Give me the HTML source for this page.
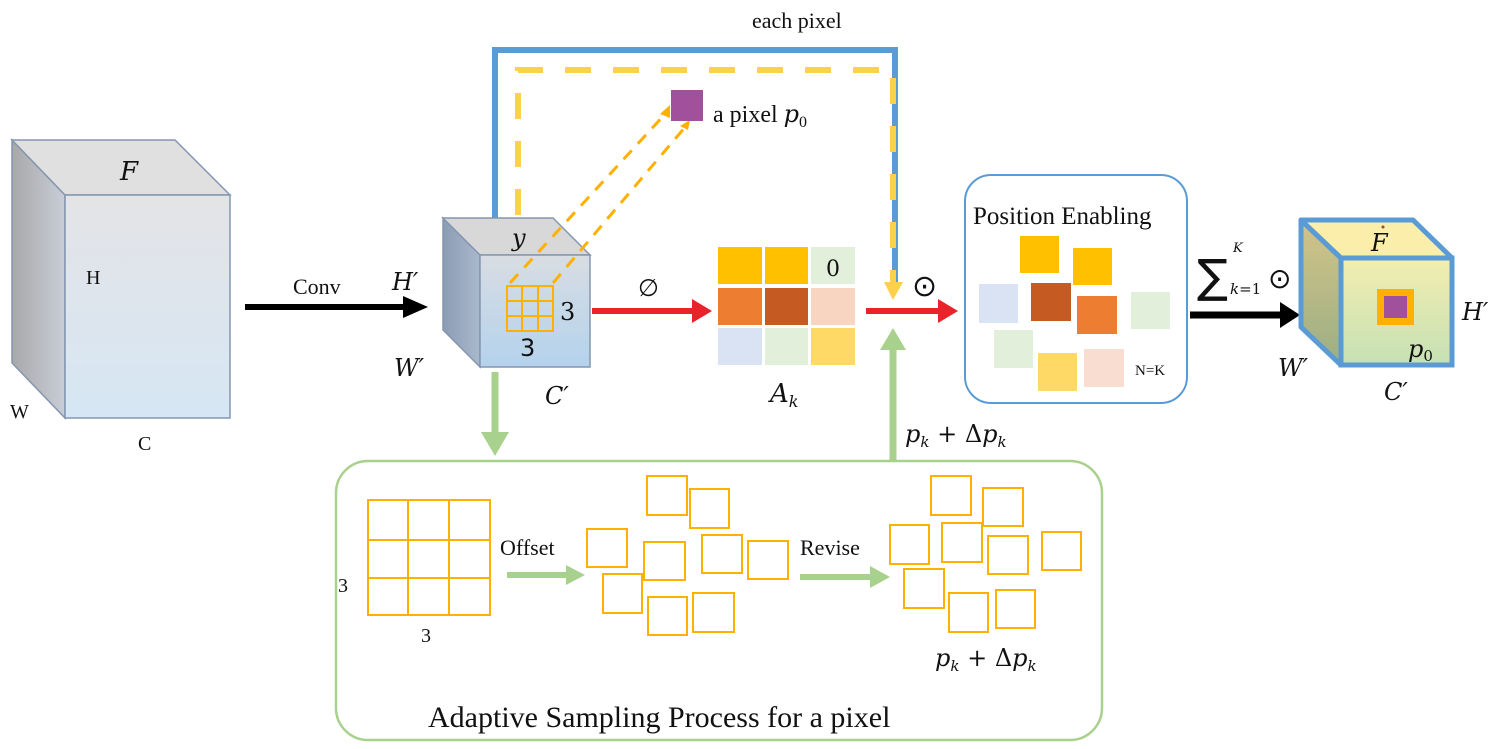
<!DOCTYPE html>
<html><head><meta charset="utf-8"><style>
html,body{margin:0;padding:0;background:#fff}
svg{display:block}
text{font-family:"Liberation Serif",serif;fill:#111}
.m{font-family:"DejaVu Serif","Liberation Serif",serif;font-style:italic}
</style></head><body>
<svg width="1500" height="749" viewBox="0 0 1500 749" xmlns="http://www.w3.org/2000/svg">
<defs>
<linearGradient id="g1" x1="0" y1="0" x2="0" y2="1"><stop offset="0" stop-color="#e4e4e6"/><stop offset="1" stop-color="#d6e6f4"/></linearGradient>
<linearGradient id="g2" x1="0" y1="0" x2="0" y2="1"><stop offset="0" stop-color="#d8dde3"/><stop offset="1" stop-color="#b4d2ec"/></linearGradient>
<linearGradient id="g3" x1="0" y1="0" x2="0" y2="1"><stop offset="0" stop-color="#f2eeb0"/><stop offset="1" stop-color="#c6e0b4"/></linearGradient>
<linearGradient id="g4" x1="0" y1="0" x2="0" y2="1"><stop offset="0" stop-color="#d2c488"/><stop offset="1" stop-color="#9cae84"/></linearGradient>
<linearGradient id="g5" x1="0" y1="0" x2="1" y2="0"><stop offset="0" stop-color="#a8a8aa"/><stop offset="1" stop-color="#c8cdd6"/></linearGradient>
<linearGradient id="g6" x1="0" y1="0" x2="1" y2="0"><stop offset="0" stop-color="#8b9cb4"/><stop offset="1" stop-color="#aab8cc"/></linearGradient>
</defs>

<!-- left cube -->
<polygon points="12,140 65,195 65,418 12,363" fill="url(#g5)" stroke="#8496b0" stroke-width="1.5"/>
<polygon points="12,140 175,140 230,195 65,195" fill="#e0e0e0" stroke="#8496b0" stroke-width="1.5"/>
<rect x="65" y="195" width="165" height="223" fill="url(#g1)" stroke="#8496b0" stroke-width="1.5"/>
<text x="120" y="180" font-size="26" class="m">F</text>
<text x="86" y="284" font-size="20">H</text>
<text x="10" y="418" font-size="20">W</text>
<text x="138" y="450" font-size="20">C</text>

<!-- conv arrow -->
<line x1="245" y1="307" x2="405" y2="307" stroke="#000" stroke-width="6"/>
<polygon points="403,296 428,307 403,318" fill="#000"/>
<text x="293" y="294" font-size="22">Conv</text>

<!-- blue and yellow top loop -->
<polyline points="495,218 495,50 895,50 895,285" fill="none" stroke="#5b9bd5" stroke-width="6"/>
<polyline points="518,215 518,70 893,70 893,282" fill="none" stroke="#ffd04a" stroke-width="6" stroke-dasharray="26,22"/>
<polygon points="884,282 903,282 893,300" fill="#ffd04a"/>
<text x="752" y="28" font-size="22">each pixel</text>

<!-- small cube -->
<polygon points="443,218 480,255 480,367 443,330" fill="url(#g6)" stroke="#8496b0" stroke-width="1.5"/>
<polygon points="443,218 553,218 590,255 480,255" fill="#d8d8d8" stroke="#8496b0" stroke-width="1.5"/>
<rect x="480" y="255" width="110" height="112" fill="url(#g2)" stroke="#8496b0" stroke-width="1.5"/>
<g stroke="#ffb000" stroke-width="2" fill="none">
<rect x="507" y="286" width="46" height="45"/>
<line x1="522" y1="286" x2="522" y2="331"/><line x1="538" y1="286" x2="538" y2="331"/>
<line x1="507" y1="301" x2="553" y2="301"/><line x1="507" y1="316" x2="553" y2="316"/>
</g>
<g stroke="#ffb000" stroke-width="3" stroke-dasharray="12,9">
<line x1="510" y1="283" x2="666" y2="113"/>
<line x1="553" y1="283" x2="686" y2="126"/>
</g>
<polygon points="660,114 670,105 670,118" fill="#ffb000"/>
<polygon points="680,126 690,120 688,130" fill="#ffb000"/>
<rect x="671" y="90" width="32" height="31" fill="#a1519c"/>
<text x="713" y="122" font-size="24">a pixel <tspan class="m">p</tspan><tspan font-size="16" dy="5">0</tspan></text>
<text x="512" y="246" font-size="24" class="m">y</text>
<text x="560" y="320" font-size="24" class="m" style="font-style:normal">3</text>
<text x="520" y="356" font-size="24" style="font-family:'DejaVu Sans',sans-serif">3</text>
<text x="392" y="290" font-size="24" class="m">H′</text>
<text x="394" y="376" font-size="24" class="m">W′</text>
<text x="545" y="404" font-size="24" class="m">C′</text>

<!-- red arrow phi -->
<line x1="592" y1="311" x2="695" y2="311" stroke="#e8232a" stroke-width="6"/>
<polygon points="692,299 712,311 692,323" fill="#e8232a"/>
<text x="638" y="296" font-size="24" class="m" style="font-style:normal">∅</text>

<!-- A_k grid -->
<rect x="718" y="247" width="44" height="37" fill="#ffc000"/>
<rect x="765" y="247" width="43" height="37" fill="#ffc000"/>
<rect x="811" y="247" width="44" height="37" fill="#e2efda"/>
<rect x="718" y="288" width="44" height="37" fill="#ed7d31"/>
<rect x="765" y="288" width="43" height="37" fill="#c55a22"/>
<rect x="811" y="288" width="44" height="37" fill="#f8d5c0"/>
<rect x="718" y="328" width="44" height="37" fill="#dae3f3"/>
<rect x="765" y="328" width="43" height="37" fill="#e2efda"/>
<rect x="811" y="328" width="44" height="37" fill="#ffd966"/>
<text x="826" y="276" font-size="22" style="font-family:'DejaVu Serif',serif">0</text>
<text x="770" y="402" font-size="26" class="m">A<tspan font-size="16" dy="5">k</tspan></text>

<!-- red arrow 2 -->
<line x1="866" y1="311" x2="940" y2="311" stroke="#e8232a" stroke-width="6"/>
<polygon points="938,299 958,311 938,323" fill="#e8232a"/>
<text x="912" y="296" font-size="30" style="font-family:'DejaVu Sans',sans-serif">⊙</text>
<!-- green up -->
<line x1="893" y1="460" x2="893" y2="345" stroke="#a9d18e" stroke-width="7"/>
<polygon points="880,350 893,328 906,350" fill="#a9d18e"/>
<text x="905" y="442" font-size="24" class="m">p<tspan font-size="15" dy="5">k</tspan><tspan dy="-5" style="font-style:normal"> + Δ</tspan>p<tspan font-size="15" dy="5">k</tspan></text>

<!-- position box -->
<rect x="965" y="175" width="222" height="228" rx="26" fill="#fff" stroke="#5b9bd5" stroke-width="2"/>
<text x="973" y="224" font-size="25">Position  Enabling</text>
<rect x="1020" y="236" width="39" height="37" fill="#ffc000"/>
<rect x="1073" y="248" width="39" height="37" fill="#ffc000"/>
<rect x="979" y="284" width="39" height="39" fill="#dae3f3"/>
<rect x="1031" y="283" width="40" height="38" fill="#c55a22"/>
<rect x="1077" y="296" width="40" height="38" fill="#ed7d31"/>
<rect x="1131" y="292" width="39" height="37" fill="#e2efda"/>
<rect x="994" y="330" width="39" height="38" fill="#e2efda"/>
<rect x="1038" y="353" width="39" height="38" fill="#ffd966"/>
<rect x="1084" y="349" width="40" height="38" fill="#f8ddd0"/>
<text x="1135" y="375" font-size="15">N=K</text>

<!-- sum arrow -->
<line x1="1190" y1="315" x2="1282" y2="315" stroke="#000" stroke-width="7"/>
<polygon points="1280,302 1300,315 1280,328" fill="#000"/>
<text x="1197" y="292" font-size="46" style="font-family:'DejaVu Sans',sans-serif">∑</text>
<text x="1233" y="252" font-size="13" class="m">K</text>
<text x="1230" y="294" font-size="15" class="m">k<tspan style="font-style:normal">=1</tspan></text>
<text x="1268" y="288" font-size="28" style="font-family:'DejaVu Sans',sans-serif">⊙</text>

<!-- right cube -->
<polygon points="1301,220 1341,258 1341,365 1301,327" fill="url(#g4)" stroke="#5b9bd5" stroke-width="5" stroke-linejoin="round"/>
<polygon points="1301,220 1413,220 1452,258 1341,258" fill="#fbeeab" stroke="#5b9bd5" stroke-width="5" stroke-linejoin="round"/>
<rect x="1341" y="258" width="111" height="107" fill="url(#g3)" stroke="#5b9bd5" stroke-width="5"/>
<rect x="1377" y="289" width="37" height="36" fill="#ffb000"/>
<rect x="1384" y="296" width="23" height="22" fill="#a1519c"/>
<text x="1371" y="251" font-size="24" class="m">F</text>
<circle cx="1383" cy="227" r="1.5" fill="#a14040"/>
<text x="1462" y="320" font-size="24" class="m">H′</text>
<text x="1408" y="357" font-size="24" class="m">p<tspan font-size="15" dy="4" style="font-style:normal">0</tspan></text>
<text x="1278" y="376" font-size="24" class="m">W′</text>
<text x="1384" y="400" font-size="24" class="m">C′</text>

<!-- green down -->
<line x1="495" y1="372" x2="495" y2="435" stroke="#a9d18e" stroke-width="7"/>
<polygon points="481,432 509,432 495,456" fill="#a9d18e"/>

<!-- bottom box -->
<rect x="336" y="461" width="766" height="279" rx="32" fill="none" stroke="#a9d18e" stroke-width="2.5"/>
<text x="428" y="727" font-size="30">Adaptive Sampling Process for a pixel</text>
<g stroke="#ffb000" stroke-width="2" fill="none">
<rect x="368" y="500" width="122" height="115"/>
<line x1="408" y1="500" x2="408" y2="615"/><line x1="449" y1="500" x2="449" y2="615"/>
<line x1="368" y1="540" x2="490" y2="540"/><line x1="368" y1="578" x2="490" y2="578"/>
<rect x="647" y="476" width="40" height="39"/>
<rect x="690" y="489" width="39" height="39"/>
<rect x="587" y="529" width="40" height="38"/>
<rect x="644" y="542" width="41" height="38"/>
<rect x="702" y="535" width="40" height="38"/>
<rect x="748" y="541" width="40" height="38"/>
<rect x="603" y="574" width="39" height="39"/>
<rect x="648" y="597" width="39" height="38"/>
<rect x="693" y="593" width="41" height="39"/>
<rect x="931" y="476" width="40" height="39"/>
<rect x="983" y="488" width="40" height="38"/>
<rect x="890" y="525" width="39" height="39"/>
<rect x="942" y="523" width="40" height="39"/>
<rect x="988" y="536" width="40" height="38"/>
<rect x="1042" y="532" width="39" height="38"/>
<rect x="904" y="569" width="40" height="39"/>
<rect x="949" y="593" width="39" height="39"/>
<rect x="996" y="590" width="39" height="38"/>
</g>
<text x="338" y="592" font-size="20">3</text>
<text x="421" y="642" font-size="20">3</text>
<text x="500" y="555" font-size="22">Offset</text>
<line x1="507" y1="575" x2="568" y2="575" stroke="#a9d18e" stroke-width="6"/>
<polygon points="566,565 585,575 566,585" fill="#a9d18e"/>
<text x="800" y="555" font-size="22">Revise</text>
<line x1="800" y1="577" x2="872" y2="577" stroke="#a9d18e" stroke-width="6"/>
<polygon points="870,566 890,577 870,588" fill="#a9d18e"/>
<text x="935" y="666" font-size="24" class="m">p<tspan font-size="15" dy="5">k</tspan><tspan dy="-5" style="font-style:normal"> + Δ</tspan>p<tspan font-size="15" dy="5">k</tspan></text>
</svg>
</body></html>
